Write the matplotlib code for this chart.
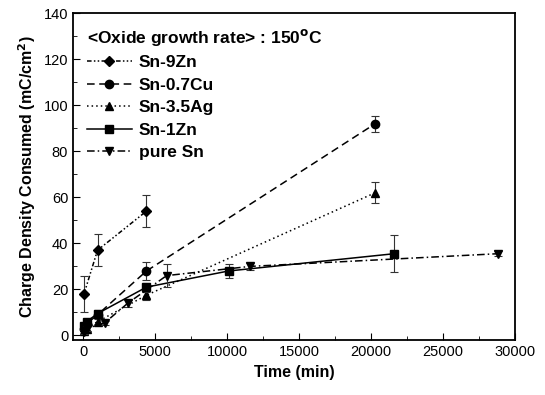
import matplotlib
matplotlib.use('Agg')
import matplotlib.pyplot as plt
from matplotlib.ticker import MultipleLocator

plt.rcParams['font.family'] = ['Liberation Sans', 'DejaVu Sans']

# ── data ────────────────────────────────────────
labels = ['Sn-9Zn', 'Sn-0.7Cu', 'Sn-3.5Ag', 'Sn-1Zn', 'pure Sn']

zn9_t = [60, 1000, 4400]
zn9_q = [18, 37, 54]
zn9_e = [8, 7, 7]

cu_t = [60, 240, 1000, 4400, 20300]
cu_q = [3, 5, 9, 28, 92]
cu_e = [1, 1, 1.5, 4, 3.5]

ag_t = [60, 240, 1000, 4400, 20300]
ag_q = [2, 3, 6, 17.5, 62]
ag_e = [1, 1, 1, 2, 4.5]

zn1_t = [60, 240, 1000, 4400, 10100, 21600]
zn1_q = [4, 6, 9.5, 21, 28, 35.5]
zn1_e = [1, 1, 1.5, 2, 3, 8]

sn_t = [60, 240, 1500, 3100, 5800, 11600, 28800]
sn_q = [1.5, 3, 5.5, 14, 26, 30, 35.5]
sn_e = [1, 1, 1, 1.5, 5, 1.5, 1]

series = [
    (zn9_t, zn9_q, zn9_e, 'D', (0, (3, 1.5, 1, 1.5, 1, 1.5))),
    (cu_t, cu_q, cu_e, 'o', (0, (5, 3))),
    (ag_t, ag_q, ag_e, '^', (0, (1, 2))),
    (zn1_t, zn1_q, zn1_e, 's', '-'),
    (sn_t, sn_q, sn_e, 'v', (0, (5, 2, 1, 2))),
]

fig = plt.figure(figsize=(5.45, 3.95), dpi=100)
ax = fig.add_axes([0.134, 0.139, 0.811, 0.828])

for (t, q, e, mk, ls), lab in zip(series, labels):
    ax.errorbar(t, q, yerr=e, fmt='none', ecolor='#333333', elinewidth=0.8,
                capsize=3, capthick=0.8)
    ax.plot(t, q, color='black', linestyle=ls, linewidth=1.1,
            marker=mk, markersize=6 if mk != 'D' else 5, label=lab)

ax.set_xlim(-700, 30000)
ax.set_ylim(-2, 140)
ax.xaxis.set_major_locator(MultipleLocator(5000))
ax.xaxis.set_minor_locator(MultipleLocator(2500))
ax.yaxis.set_major_locator(MultipleLocator(20))
ax.yaxis.set_minor_locator(MultipleLocator(10))
ax.tick_params(which='both', direction='in', labelsize=10.5)
ax.tick_params(which='major', length=5)
ax.tick_params(which='minor', length=3)
for s in ax.spines.values():
    s.set_linewidth(1.3)

ax.set_xlabel('Time (min)', fontweight='bold', fontsize=11.5)
ax.set_ylabel('Charge Density Consumed (mC/cm$^\\mathbf{2}$)', fontweight='bold', fontsize=11.5)

leg = ax.legend(loc='upper left', frameon=False, handlelength=2.6,
                prop={'weight': 'bold', 'size': 12.5},
                title='<Oxide growth rate> : 150$^\\mathbf{o}$C',
                title_fontproperties={'weight': 'bold', 'size': 12.5},
                borderaxespad=0.3, labelspacing=0.42, handletextpad=0.4,
                borderpad=0.5)
leg._legend_box.align = 'left'

fig.savefig('out.png', dpi=100)
